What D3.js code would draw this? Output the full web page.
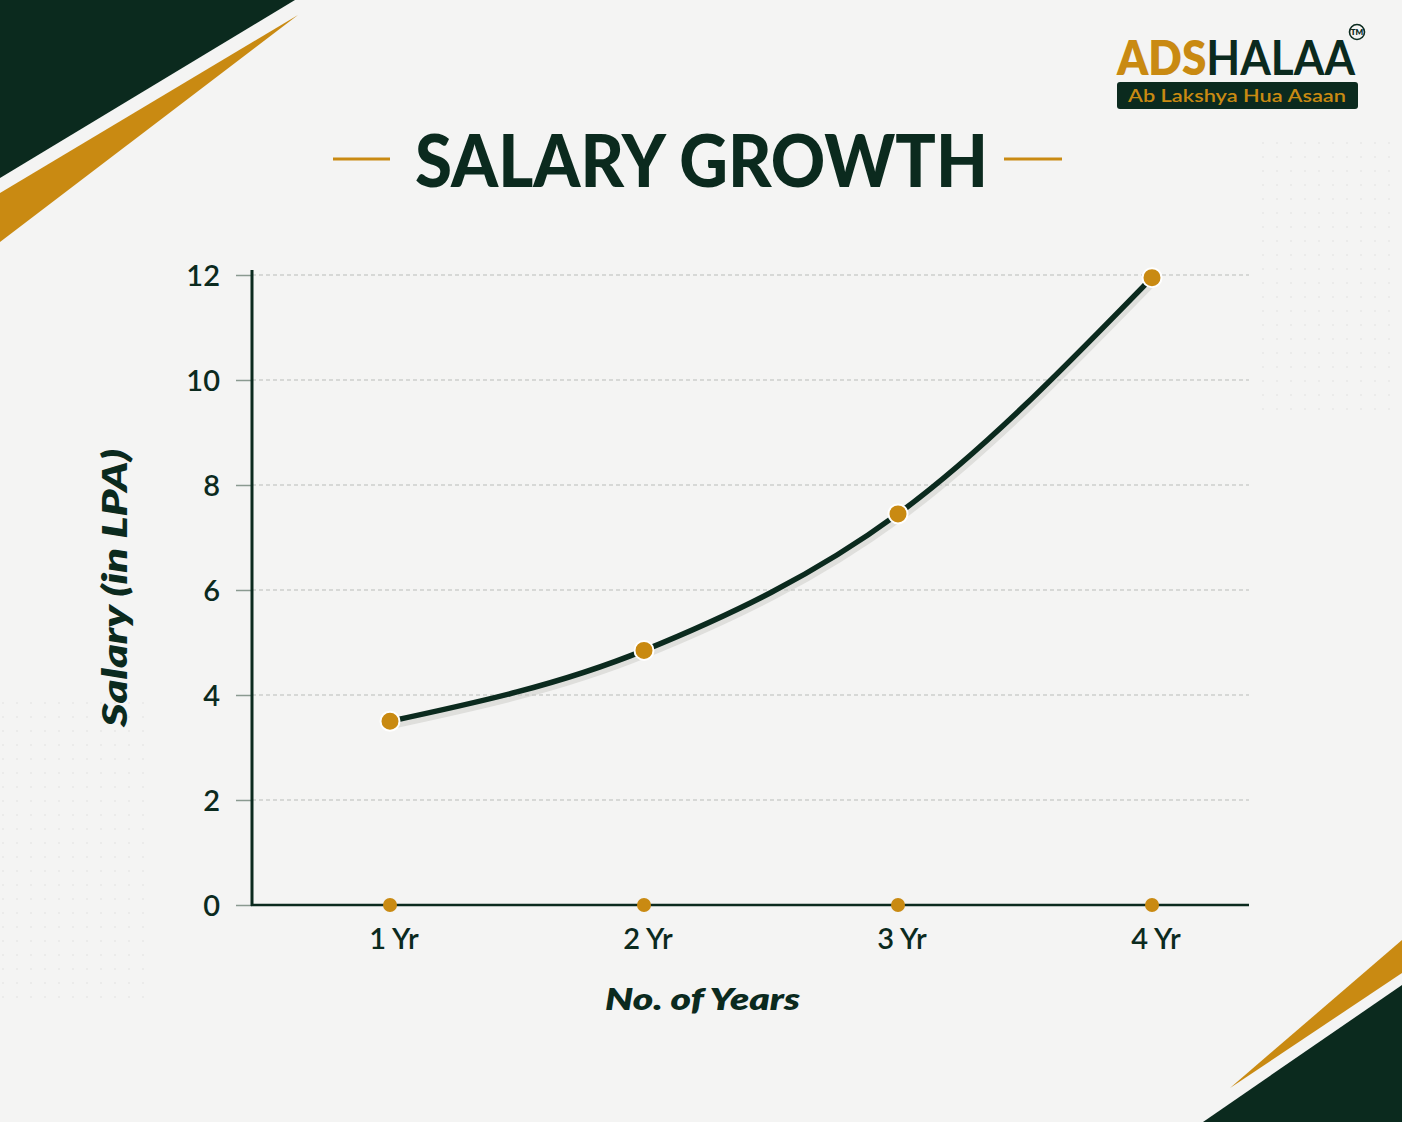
<!DOCTYPE html>
<html><head><meta charset="utf-8">
<script src="https://cdn.jsdelivr.net/npm/d3@7"></script>
<style>
html,body{margin:0;padding:0;background:#f4f4f3;}
svg{display:block;}
</style></head>
<body>
<script>
const categories = ["1 Yr","2 Yr","3 Yr","4 Yr"];
const salaries = [3.5, 4.85, 7.45, 11.95];
const yTicks = [0,2,4,6,8,10,12];
const title = "SALARY GROWTH";
const xTitle = "No. of Years";
const yTitle = "Salary (in LPA)";

const W=1402,H=1122;
const DARK="#0b2a1e", GOLD="#c98a12";
const FONT="Lato, 'Open Sans', sans-serif";

const svg=d3.select("body").append("svg").attr("width",W).attr("height",H);
svg.append("rect").attr("width",W).attr("height",H).attr("fill","#f4f4f3");

// dotted texture
const defs=svg.append("defs");
const pat=defs.append("pattern").attr("id","dots").attr("width",14).attr("height",14).attr("patternUnits","userSpaceOnUse");
pat.append("circle").attr("cx",3).attr("cy",3).attr("r",1).attr("fill","#e6e6e4");
svg.append("rect").attr("x",1250).attr("y",140).attr("width",152).attr("height",280).attr("fill","url(#dots)").attr("opacity",0.8);
svg.append("rect").attr("x",0).attr("y",700).attr("width",150).attr("height",300).attr("fill","url(#dots)").attr("opacity",0.8);

// corner decorations
svg.append("path").attr("d","M0,0 L295,0 L0,178 Z").attr("fill",DARK);
svg.append("path").attr("d","M298,15 L0,193 L0,242 Z").attr("fill",GOLD);
svg.append("path").attr("d","M1402,985 L1402,1122 L1203,1122 Z").attr("fill",DARK);
svg.append("path").attr("d","M1402,940 L1402,973 L1230,1088 Z").attr("fill",GOLD);

// logo
const logo=svg.append("g");
const lt=logo.append("text").attr("x",1117).attr("y",75).attr("font-family",FONT).attr("font-weight",800).attr("font-size",48)
  .attr("textLength",238).attr("lengthAdjust","spacingAndGlyphs");
lt.append("tspan").attr("fill",GOLD).text("ADS");
lt.append("tspan").attr("fill",DARK).attr("font-weight",700).text("HALAA");
logo.append("circle").attr("cx",1357).attr("cy",32).attr("r",7.5).attr("fill","none").attr("stroke",DARK).attr("stroke-width",1.6);
logo.append("text").attr("x",1357).attr("y",35).attr("text-anchor","middle").attr("font-family",FONT).attr("font-weight",800).attr("font-size",8).attr("fill",DARK).text("TM");
logo.append("rect").attr("x",1117).attr("y",82).attr("width",241).attr("height",27).attr("rx",3).attr("fill",DARK);
logo.append("text").attr("x",1237).attr("y",102).attr("text-anchor","middle").attr("font-family",FONT).attr("font-weight",600).attr("font-size",18).attr("fill",GOLD)
  .attr("textLength",218).attr("lengthAdjust","spacingAndGlyphs").text("Ab Lakshya Hua Asaan");

// title
svg.append("text").attr("x",415).attr("y",187).attr("font-family",FONT).attr("font-weight",900).attr("font-size",72).attr("fill",DARK)
  .attr("textLength",573).attr("lengthAdjust","spacingAndGlyphs").text(title);
svg.append("line").attr("x1",333).attr("x2",390).attr("y1",159).attr("y2",159).attr("stroke",GOLD).attr("stroke-width",3);
svg.append("line").attr("x1",1004).attr("x2",1062).attr("y1",159).attr("y2",159).attr("stroke",GOLD).attr("stroke-width",3);

// scales
const x=d3.scalePoint().domain(categories).range([390,1152]);
const y=d3.scaleLinear().domain([0,12]).range([905,275]);
const xLeft=252, xRight=1249;

// grid
const grid=svg.append("g");
grid.selectAll("line").data(yTicks.filter(d=>d>0)).join("line")
  .attr("x1",xLeft).attr("x2",xRight).attr("y1",d=>y(d)).attr("y2",d=>y(d))
  .attr("stroke","#b9bcb9").attr("stroke-width",1).attr("stroke-dasharray","4,3");

// y axis
const yAxis=d3.axisLeft(y).tickValues(yTicks).tickSize(16).tickPadding(16).tickFormat(d3.format("d"));
const yg=svg.append("g").attr("transform",`translate(${xLeft},0)`).call(yAxis);
yg.select(".domain").remove();
yg.selectAll(".tick line").attr("stroke","#8a9a90").attr("stroke-width",1.5);
yg.selectAll(".tick text").attr("font-family",FONT).attr("font-weight",600).attr("font-size",29).attr("fill",DARK).attr("dy","0.35em");
svg.append("line").attr("x1",xLeft).attr("x2",xLeft).attr("y1",270).attr("y2",906).attr("stroke",DARK).attr("stroke-width",3);
svg.append("line").attr("x1",xLeft-1).attr("x2",xRight).attr("y1",905).attr("y2",905).attr("stroke",DARK).attr("stroke-width",2.5);

// x axis labels & dots
const xs=svg.append("g");
xs.selectAll("circle").data(categories).join("circle").attr("cx",d=>x(d)).attr("cy",905).attr("r",7).attr("fill",GOLD);
xs.selectAll("text").data(categories).join("text").attr("x",d=>x(d)+4).attr("y",949).attr("text-anchor","middle")
  .attr("font-family",FONT).attr("font-weight",600).attr("font-size",29).attr("fill",DARK).text(d=>d);

// axis titles
svg.append("text").attr("x",605).attr("y",1010).attr("font-family",FONT).attr("font-weight",800).attr("font-style","italic")
  .attr("font-size",31).attr("fill",DARK).attr("textLength",195).attr("lengthAdjust","spacingAndGlyphs").text(xTitle);
svg.append("text").attr("transform","translate(127,727) rotate(-90)").attr("font-family",FONT).attr("font-weight",800).attr("font-style","italic")
  .attr("font-size",34).attr("fill",DARK).attr("textLength",278).attr("lengthAdjust","spacingAndGlyphs").text(yTitle);

// line
const pts=categories.map((c,i)=>[x(c),y(salaries[i])]);
const line=d3.line().curve(d3.curveMonotoneX);
svg.append("path").attr("d",line(pts)).attr("fill","none").attr("stroke","#c9c9c6").attr("stroke-width",7).attr("opacity",0.5).attr("transform","translate(2,4)");
svg.append("path").attr("d",line(pts)).attr("fill","none").attr("stroke",DARK).attr("stroke-width",5.5).attr("stroke-linecap","round");
svg.append("g").selectAll("circle").data(pts).join("circle").attr("cx",d=>d[0]).attr("cy",d=>d[1]).attr("r",9.5)
  .attr("fill",GOLD).attr("stroke","#ffffff").attr("stroke-width",2);
</script>
</body></html>
